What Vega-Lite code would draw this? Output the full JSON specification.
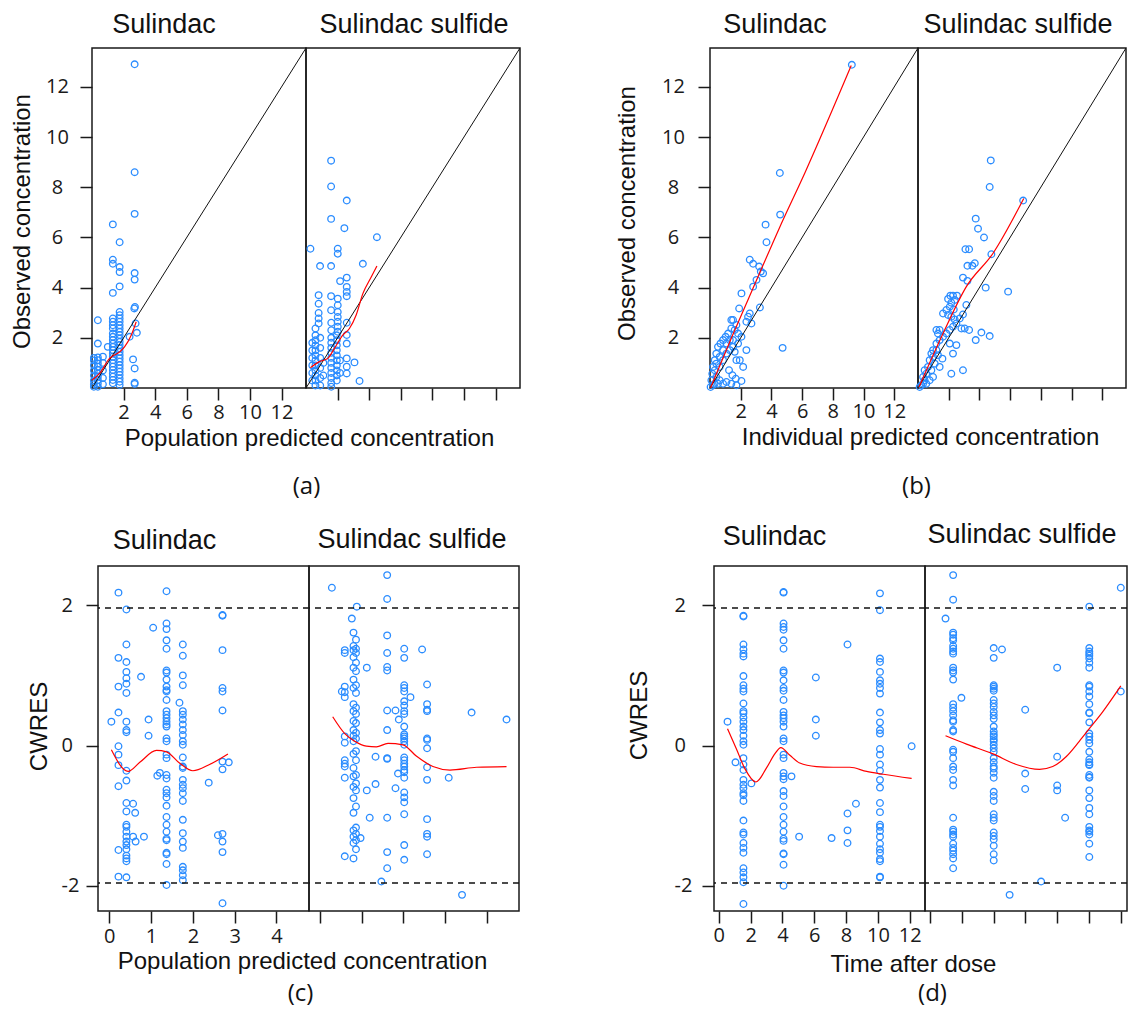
{
"$schema": "https://vega.github.io/schema/vega-lite/v6.json",
"padding": {"left": 0, "top": 10, "right": 0, "bottom": 0},
"background": "white",
"config": {
 "view": {"stroke": "#1a1a1a", "strokeWidth": 1.5},
 "axis": {"domain": false, "grid": false, "ticks": true, "tickColor": "#1a1a1a", "tickWidth": 1.5, "tickSize": 12, "labelFont": "Open Sans", "labelFontSize": 20, "labelColor": "#1a1a1a", "labelFlush": false, "labelOverlap": false, "labelExpr": "'' + datum.value", "titleFont": "Liberation Sans", "titleFontSize": 24, "titleFontWeight": "normal", "titleColor": "#111111", "titleBaseline": "alphabetic"},
 "title": {"font": "Liberation Sans", "fontSize": 27, "fontWeight": "normal", "color": "#111111", "baseline": "alphabetic", "anchor": "middle"}
},
"datasets": {
 "diag": [{"x":0,"y":0},{"x":13.55,"y":13.55}],
 "hl": [{"y":1.96},{"y":-1.96}],
 "a_s": [{"x":2.7,"y":12.9},{"x":2.7,"y":8.6},{"x":2.7,"y":6.94},{"x":2.7,"y":4.58},{"x":2.7,"y":4.32},{"x":2.72,"y":3.23},{"x":2.68,"y":3.17},{"x":2.76,"y":2.57},{"x":2.84,"y":2.2},{"x":2.6,"y":1.14},{"x":2.7,"y":0.78},{"x":2.7,"y":0.21},{"x":2.7,"y":0.16},
{"x":1.32,"y":6.52},{"x":1.32,"y":5.11},{"x":1.32,"y":4.95},{"x":1.32,"y":3.79},
{"x":1.32,"y":2.77},{"x":1.32,"y":2.64},{"x":1.32,"y":2.5},{"x":1.32,"y":2.37},{"x":1.32,"y":2.17},{"x":1.32,"y":2.04},{"x":1.32,"y":1.91},{"x":1.32,"y":1.77},{"x":1.32,"y":1.64},{"x":1.32,"y":1.51},{"x":1.32,"y":1.38},{"x":1.32,"y":1.25},{"x":1.32,"y":1.11},{"x":1.32,"y":0.98},{"x":1.32,"y":0.85},{"x":1.32,"y":0.72},{"x":1.32,"y":0.58},{"x":1.32,"y":0.45},{"x":1.32,"y":0.32},{"x":1.32,"y":0.19},
{"x":1.75,"y":5.81},{"x":1.75,"y":4.82},{"x":1.75,"y":4.62},{"x":1.75,"y":4.05},{"x":1.75,"y":3.03},{"x":1.75,"y":2.9},{"x":1.75,"y":2.77},{"x":1.75,"y":2.64},{"x":1.75,"y":2.5},{"x":1.75,"y":2.37},{"x":1.75,"y":2.24},{"x":1.75,"y":2.11},{"x":1.75,"y":1.97},{"x":1.75,"y":1.84},{"x":1.75,"y":1.71},{"x":1.75,"y":1.58},{"x":1.75,"y":1.44},{"x":1.75,"y":1.31},{"x":1.75,"y":1.18},{"x":1.75,"y":1.05},{"x":1.75,"y":0.91},{"x":1.75,"y":0.78},{"x":1.75,"y":0.65},{"x":1.75,"y":0.52},{"x":1.75,"y":0.38},{"x":1.75,"y":0.25},{"x":1.75,"y":0.12},
{"x":0.37,"y":2.7},{"x":0.37,"y":1.77},{"x":0.37,"y":1.22},{"x":0.37,"y":1.11},{"x":0.37,"y":0.98},{"x":0.37,"y":0.85},{"x":0.37,"y":0.72},{"x":0.37,"y":0.58},{"x":0.37,"y":0.45},{"x":0.37,"y":0.32},{"x":0.37,"y":0.19},{"x":0.37,"y":0.05},
{"x":0.12,"y":1.2},{"x":0.12,"y":1.1},{"x":0.12,"y":0.9},{"x":0.12,"y":0.7},{"x":0.12,"y":0.5},{"x":0.12,"y":0.3},{"x":0.12,"y":0.15},{"x":0.12,"y":0.05},
{"x":0.69,"y":1.25},{"x":0.69,"y":1.0},{"x":0.69,"y":0.7},{"x":0.69,"y":0.4},{"x":0.69,"y":0.15},
{"x":1.0,"y":1.64},{"x":2.38,"y":2.04}],
 "a_s_sm": [{"x":0.01,"y":0.32},{"x":0.48,"y":0.58},{"x":1.11,"y":1.18},{"x":1.75,"y":1.44},{"x":2.06,"y":1.64},{"x":2.49,"y":2.11},{"x":2.8,"y":2.64}],
 "a_ss": [{"x":0.28,"y":5.55},{"x":1.59,"y":9.06},{"x":1.59,"y":8.03},{"x":2.58,"y":7.47},{"x":1.59,"y":6.74},{"x":2.43,"y":6.37},{"x":4.49,"y":6.01},{"x":2.01,"y":5.55},{"x":2.01,"y":5.35},{"x":0.89,"y":4.86},{"x":1.59,"y":4.86},{"x":3.6,"y":4.95},{"x":2.16,"y":4.26},{"x":2.58,"y":4.4},{"x":2.58,"y":4.03},{"x":2.58,"y":3.83},{"x":2.58,"y":3.66},
{"x":0.8,"y":3.7},{"x":0.8,"y":3.36},{"x":0.8,"y":2.99},{"x":0.8,"y":2.77},{"x":0.8,"y":2.57},{"x":1.59,"y":3.66},{"x":1.59,"y":3.1},
{"x":2.01,"y":3.56},{"x":2.01,"y":3.3},{"x":2.01,"y":3.03},{"x":2.01,"y":2.83},{"x":2.01,"y":2.64},{"x":2.01,"y":2.44},{"x":2.01,"y":2.24},
{"x":2.58,"y":2.6},{"x":2.58,"y":2.11},{"x":2.58,"y":1.77},{"x":2.58,"y":1.18},{"x":2.58,"y":0.85},{"x":2.58,"y":0.58},{"x":3.07,"y":1.02},{"x":3.39,"y":0.28},
{"x":0.6,"y":2.37},{"x":0.6,"y":2.1},{"x":0.6,"y":1.9},{"x":0.6,"y":1.7},{"x":0.6,"y":1.5},{"x":0.6,"y":1.3},{"x":0.6,"y":1.1},{"x":0.6,"y":0.9},{"x":0.6,"y":0.7},{"x":0.6,"y":0.5},{"x":0.6,"y":0.3},{"x":0.6,"y":0.1},
{"x":0.4,"y":1.8},{"x":0.4,"y":1.5},{"x":0.4,"y":1.2},{"x":0.4,"y":0.9},{"x":0.4,"y":0.6},{"x":0.4,"y":0.3},
{"x":0.9,"y":2.0},{"x":0.9,"y":1.6},{"x":0.9,"y":1.2},{"x":0.9,"y":0.8},{"x":0.9,"y":0.4},{"x":0.9,"y":0.1},{"x":1.1,"y":1.0},{"x":1.1,"y":0.5},
{"x":1.6,"y":2.6},{"x":1.6,"y":2.3},{"x":1.6,"y":2.0},{"x":1.6,"y":1.8},{"x":1.6,"y":1.6},{"x":1.6,"y":1.4},{"x":1.6,"y":1.2},{"x":1.6,"y":1.0},{"x":1.6,"y":0.8},{"x":1.6,"y":0.6},{"x":1.6,"y":0.4},{"x":1.6,"y":0.2},{"x":1.6,"y":0.05},
{"x":1.95,"y":2.1},{"x":1.95,"y":1.9},{"x":1.95,"y":1.7},{"x":1.95,"y":1.5},{"x":1.95,"y":1.3},{"x":1.95,"y":1.1},{"x":1.95,"y":0.9},{"x":1.95,"y":0.7},{"x":1.95,"y":0.5},{"x":1.95,"y":0.3},{"x":2.15,"y":1.1},{"x":2.15,"y":0.6}],
 "a_ss_sm": [{"x":0.28,"y":0.81},{"x":0.85,"y":1.05},{"x":1.38,"y":1.18},{"x":1.8,"y":1.58},{"x":2.33,"y":2.11},{"x":2.75,"y":2.37},{"x":3.17,"y":2.9},{"x":3.6,"y":3.76},{"x":4.13,"y":4.42},{"x":4.49,"y":4.86}],
 "b_s": [{"x":9.24,"y":12.88},{"x":4.55,"y":8.57},{"x":4.57,"y":6.91},{"x":3.62,"y":6.51},{"x":3.68,"y":5.81},{"x":2.59,"y":5.11},{"x":2.81,"y":4.95},{"x":3.2,"y":4.84},{"x":3.31,"y":4.64},{"x":3.46,"y":4.57},{"x":3.03,"y":4.31},{"x":2.81,"y":4.04},{"x":2.05,"y":3.77},{"x":1.9,"y":3.17},{"x":3.25,"y":3.21},{"x":2.59,"y":2.97},{"x":2.48,"y":2.84},{"x":2.7,"y":2.57},{"x":2.37,"y":2.64},
{"x":1.5,"y":2.71},{"x":1.72,"y":2.51},{"x":1.39,"y":2.37},{"x":1.18,"y":2.17},{"x":1.02,"y":2.04},{"x":0.85,"y":1.91},{"x":0.68,"y":1.77},{"x":0.52,"y":1.64},{"x":0.41,"y":1.37},{"x":0.31,"y":1.11},{"x":0.2,"y":0.84},{"x":0.15,"y":0.57},{"x":0.09,"y":0.31},
{"x":2.05,"y":2.04},{"x":2.37,"y":1.51},{"x":4.73,"y":1.6},{"x":1.61,"y":1.44},{"x":1.72,"y":1.11},{"x":1.94,"y":1.11},{"x":2.16,"y":0.84},{"x":2.05,"y":0.28},{"x":1.24,"y":0.71},{"x":1.46,"y":0.51},{"x":1.68,"y":0.37},
{"x":0.63,"y":0.84},{"x":0.85,"y":1.11},{"x":1.07,"y":1.37},{"x":1.29,"y":1.51},{"x":1.5,"y":1.64},{"x":1.07,"y":1.77},{"x":1.29,"y":1.91},{"x":0.85,"y":1.51},{"x":0.63,"y":1.24},{"x":0.41,"y":0.97},{"x":0.31,"y":0.71},{"x":0.41,"y":0.44},{"x":0.63,"y":0.31},{"x":0.85,"y":0.17},{"x":1.07,"y":0.24},{"x":1.39,"y":0.17},{"x":1.72,"y":0.11},
{"x":1.39,"y":2.71},{"x":1.61,"y":2.31},{"x":1.83,"y":2.17},{"x":1.5,"y":1.91},{"x":1.83,"y":1.77},{"x":0.04,"y":0.04},{"x":0.2,"y":0.11},{"x":0.3,"y":0.17},{"x":0.52,"y":0.17}],
 "b_s_sm": [{"x":0.03,"y":0.0},{"x":1.4,"y":2.0},{"x":3.0,"y":4.25},{"x":4.5,"y":6.35},{"x":6.2,"y":8.6},{"x":9.2,"y":12.85}],
 "b_ss": [{"x":4.74,"y":9.07},{"x":4.67,"y":8.01},{"x":6.85,"y":7.47},{"x":3.76,"y":6.75},{"x":3.91,"y":6.35},{"x":4.3,"y":6.0},{"x":3.09,"y":5.53},{"x":3.33,"y":5.53},{"x":4.78,"y":5.33},{"x":3.22,"y":4.87},{"x":3.54,"y":4.87},{"x":3.7,"y":4.97},{"x":2.93,"y":4.4},{"x":3.22,"y":4.27},{"x":4.41,"y":4.0},{"x":5.87,"y":3.84},
{"x":2.11,"y":3.68},{"x":2.28,"y":3.68},{"x":2.54,"y":3.68},{"x":1.96,"y":3.55},{"x":2.17,"y":3.4},{"x":2.39,"y":3.51},{"x":2.07,"y":3.24},{"x":2.33,"y":3.13},{"x":1.85,"y":3.11},{"x":1.63,"y":2.97},{"x":1.96,"y":2.91},{"x":2.17,"y":2.84},{"x":2.39,"y":2.73},
{"x":3.15,"y":3.31},{"x":2.93,"y":2.93},{"x":2.72,"y":2.77},{"x":2.83,"y":2.37},{"x":3.04,"y":2.37},{"x":3.33,"y":2.31},{"x":2.5,"y":2.57},{"x":2.28,"y":2.44},{"x":2.07,"y":2.31},{"x":1.85,"y":2.17},{"x":1.63,"y":2.04},{"x":1.41,"y":1.91},{"x":1.2,"y":1.77},{"x":0.98,"y":1.51},{"x":0.87,"y":1.37},{"x":0.76,"y":1.11},{"x":0.65,"y":0.84},{"x":0.54,"y":0.57},{"x":0.43,"y":0.31},{"x":0.33,"y":0.17},{"x":0.22,"y":0.11},
{"x":1.41,"y":2.31},{"x":1.2,"y":2.31},{"x":1.3,"y":2.17},{"x":4.13,"y":2.21},{"x":4.67,"y":2.07},{"x":3.76,"y":1.91},{"x":2.07,"y":1.77},{"x":2.5,"y":1.71},{"x":2.28,"y":1.37},{"x":1.59,"y":1.17},{"x":1.41,"y":0.84},{"x":2.17,"y":0.57},{"x":2.93,"y":0.71},
{"x":0.98,"y":1.24},{"x":1.09,"y":0.97},{"x":0.87,"y":0.71},{"x":0.98,"y":0.44},{"x":0.76,"y":0.31},{"x":0.54,"y":0.17},{"x":0.11,"y":0.04},{"x":0.33,"y":0.44},{"x":0.43,"y":0.71},{"x":1.2,"y":1.51},{"x":1.3,"y":1.31}],
 "b_ss_sm": [{"x":0.07,"y":0.04},{"x":1.63,"y":2.17},{"x":3.15,"y":4.04},{"x":4.89,"y":5.37},{"x":6.89,"y":7.55}],
 "c_s": [{"x":0.22,"y":2.18},{"x":0.22,"y":1.25},{"x":0.22,"y":0.84},{"x":0.22,"y":0.47},{"x":0.22,"y":-0.01},{"x":0.22,"y":-0.13},{"x":0.22,"y":-0.28},{"x":0.22,"y":-0.58},{"x":0.22,"y":-1.49},{"x":0.22,"y":-1.87},{"x":0.05,"y":0.34},
{"x":0.41,"y":1.94},{"x":0.41,"y":1.44},{"x":0.41,"y":1.19},{"x":0.41,"y":1.05},{"x":0.41,"y":0.96},{"x":0.41,"y":0.88},{"x":0.41,"y":0.75},{"x":0.41,"y":0.34},{"x":0.41,"y":0.22},{"x":0.41,"y":0.19},{"x":0.41,"y":-0.36},{"x":0.41,"y":-0.5},{"x":0.41,"y":-0.82},{"x":0.41,"y":-0.94},{"x":0.41,"y":-1.13},{"x":0.41,"y":-1.16},{"x":0.41,"y":-1.23},{"x":0.41,"y":-1.3},{"x":0.41,"y":-1.37},{"x":0.41,"y":-1.42},{"x":0.41,"y":-1.48},{"x":0.41,"y":-1.57},{"x":0.41,"y":-1.61},{"x":0.41,"y":-1.65},{"x":0.41,"y":-1.88},
{"x":0.57,"y":-0.83},{"x":0.62,"y":-0.96},{"x":0.63,"y":-1.37},{"x":0.57,"y":-1.3},{"x":0.76,"y":0.98},{"x":0.83,"y":-1.3},{"x":0.94,"y":0.37},{"x":0.94,"y":0.14},{"x":1.05,"y":1.68},
{"x":1.37,"y":2.2},{"x":1.37,"y":1.74},{"x":1.37,"y":1.66},{"x":1.37,"y":1.5},{"x":1.37,"y":1.38},{"x":1.37,"y":1.07},{"x":1.37,"y":1.04},{"x":1.37,"y":0.94},{"x":1.37,"y":0.84},{"x":1.37,"y":0.79},{"x":1.37,"y":0.77},{"x":1.37,"y":0.65},{"x":1.37,"y":0.49},{"x":1.37,"y":0.44},{"x":1.37,"y":0.39},{"x":1.37,"y":0.34},{"x":1.37,"y":0.3},{"x":1.37,"y":0.27},{"x":1.37,"y":0.1},{"x":1.37,"y":0.06},{"x":1.37,"y":-0.13},{"x":1.37,"y":-0.18},{"x":1.37,"y":-0.42},{"x":1.37,"y":-0.47},{"x":1.37,"y":-0.63},{"x":1.37,"y":-0.68},{"x":1.37,"y":-0.74},{"x":1.37,"y":-0.86},{"x":1.37,"y":-1.02},{"x":1.37,"y":-1.13},{"x":1.37,"y":-1.23},{"x":1.37,"y":-1.33},{"x":1.37,"y":-1.35},{"x":1.37,"y":-1.53},{"x":1.37,"y":-1.55},{"x":1.37,"y":-1.69},{"x":1.37,"y":-1.99},
{"x":1.15,"y":-0.43},{"x":1.21,"y":-0.39},{"x":1.68,"y":0.61},
{"x":1.76,"y":1.44},{"x":1.76,"y":1.28},{"x":1.76,"y":1.0},{"x":1.76,"y":0.86},{"x":1.76,"y":0.49},{"x":1.76,"y":0.44},{"x":1.76,"y":0.37},{"x":1.76,"y":0.3},{"x":1.76,"y":0.22},{"x":1.76,"y":0.15},{"x":1.76,"y":0.06},{"x":1.76,"y":0.01},{"x":1.76,"y":-0.17},{"x":1.76,"y":-0.3},{"x":1.76,"y":-0.32},{"x":1.76,"y":-0.49},{"x":1.76,"y":-0.56},{"x":1.76,"y":-0.61},{"x":1.76,"y":-0.68},{"x":1.76,"y":-0.79},{"x":1.76,"y":-1.06},{"x":1.76,"y":-1.25},{"x":1.76,"y":-1.37},{"x":1.76,"y":-1.46},{"x":1.76,"y":-1.73},{"x":1.76,"y":-1.78},{"x":1.76,"y":-1.85},{"x":1.76,"y":-1.92},
{"x":2.38,"y":-0.53},
{"x":2.71,"y":1.86},{"x":2.71,"y":1.85},{"x":2.71,"y":1.36},{"x":2.71,"y":0.82},{"x":2.71,"y":0.77},{"x":2.71,"y":0.5},{"x":2.71,"y":-0.23},{"x":2.71,"y":-0.34},{"x":2.71,"y":-1.26},{"x":2.71,"y":-1.37},{"x":2.71,"y":-1.52},{"x":2.71,"y":-2.25},{"x":2.6,"y":-1.28},{"x":2.86,"y":-0.24}],
 "c_s_sm": [{"x":0.05,"y":-0.06},{"x":0.45,"y":-0.37},{"x":0.73,"y":-0.24},{"x":1.13,"y":-0.07},{"x":1.37,"y":-0.09},{"x":1.68,"y":-0.25},{"x":2.0,"y":-0.36},{"x":2.4,"y":-0.27},{"x":2.84,"y":-0.12}],
 "c_ss": [{"x":0.28,"y":2.25},{"x":0.88,"y":1.98},{"x":0.76,"y":1.81},
{"x":0.8,"y":1.61},{"x":0.86,"y":1.51},{"x":0.8,"y":1.42},{"x":0.86,"y":1.38},{"x":0.8,"y":1.36},{"x":0.86,"y":1.32},{"x":0.8,"y":1.26},{"x":0.86,"y":1.18},{"x":0.8,"y":1.11},{"x":0.86,"y":1.06},{"x":0.8,"y":0.94},{"x":0.86,"y":0.86},{"x":0.8,"y":0.82},{"x":0.86,"y":0.75},{"x":0.8,"y":0.59},{"x":0.86,"y":0.54},{"x":0.8,"y":0.49},{"x":0.86,"y":0.45},{"x":0.8,"y":0.35},{"x":0.86,"y":0.32},{"x":0.8,"y":0.22},{"x":0.86,"y":0.18},{"x":0.8,"y":0.14},{"x":0.86,"y":0.1},{"x":0.8,"y":0.06},{"x":0.86,"y":-0.08},{"x":0.8,"y":-0.12},{"x":0.86,"y":-0.21},{"x":0.8,"y":-0.32},{"x":0.86,"y":-0.42},{"x":0.8,"y":-0.44},{"x":0.86,"y":-0.54},{"x":0.8,"y":-0.59},{"x":0.86,"y":-0.64},{"x":0.8,"y":-0.75},{"x":0.86,"y":-0.87},{"x":0.8,"y":-0.96},{"x":0.86,"y":-1.17},{"x":0.8,"y":-1.21},{"x":0.86,"y":-1.26},{"x":0.8,"y":-1.3},{"x":0.86,"y":-1.35},{"x":0.8,"y":-1.39},{"x":0.86,"y":-1.48},{"x":0.8,"y":-1.61},
{"x":0.59,"y":1.36},{"x":0.59,"y":1.32},{"x":0.59,"y":0.84},{"x":0.59,"y":0.76},{"x":0.59,"y":0.69},{"x":0.59,"y":0.13},{"x":0.59,"y":0.04},{"x":0.59,"y":-0.21},{"x":0.59,"y":-0.26},{"x":0.59,"y":-0.3},{"x":0.59,"y":-0.46},{"x":0.59,"y":-1.58},
{"x":0.52,"y":0.77},{"x":0.97,"y":-1.32},{"x":1.12,"y":1.11},{"x":1.12,"y":-0.64},{"x":1.19,"y":-1.03},{"x":1.33,"y":-0.55},{"x":1.33,"y":-0.16},
{"x":1.61,"y":2.43},{"x":1.61,"y":2.09},{"x":1.61,"y":1.57},{"x":1.61,"y":1.32},{"x":1.61,"y":1.12},{"x":1.61,"y":1.07},{"x":1.61,"y":0.5},{"x":1.61,"y":0.22},{"x":1.61,"y":-0.18},{"x":1.61,"y":-0.19},{"x":1.61,"y":-1.03},{"x":1.61,"y":-1.52},{"x":1.61,"y":-1.75},
{"x":1.47,"y":-1.94},{"x":1.81,"y":0.5},{"x":1.81,"y":-0.61},{"x":1.89,"y":0.37},{"x":1.87,"y":-0.4},
{"x":2.02,"y":1.38},{"x":2.02,"y":1.25},{"x":2.02,"y":0.86},{"x":2.02,"y":0.82},{"x":2.02,"y":0.77},{"x":2.02,"y":0.63},{"x":2.02,"y":0.57},{"x":2.02,"y":0.49},{"x":2.02,"y":0.45},{"x":2.02,"y":0.27},{"x":2.02,"y":0.16},{"x":2.02,"y":0.13},{"x":2.02,"y":0.1},{"x":2.02,"y":0.06},{"x":2.02,"y":0.01},{"x":2.02,"y":-0.17},{"x":2.02,"y":-0.21},{"x":2.02,"y":-0.26},{"x":2.02,"y":-0.3},{"x":2.02,"y":-0.35},{"x":2.02,"y":-0.38},{"x":2.02,"y":-0.46},{"x":2.02,"y":-0.67},{"x":2.02,"y":-0.74},{"x":2.02,"y":-0.81},{"x":2.02,"y":-0.98},{"x":2.02,"y":-1.42},{"x":2.02,"y":-1.63},
{"x":2.17,"y":0.69},{"x":2.45,"y":1.37},
{"x":2.57,"y":0.87},{"x":2.57,"y":0.59},{"x":2.57,"y":0.51},{"x":2.57,"y":0.49},{"x":2.57,"y":0.1},{"x":2.57,"y":0.08},{"x":2.57,"y":-0.04},{"x":2.57,"y":-0.31},{"x":2.57,"y":-0.49},{"x":2.57,"y":-1.05},{"x":2.57,"y":-1.26},{"x":2.57,"y":-1.3},{"x":2.57,"y":-1.55},
{"x":3.09,"y":-0.46},{"x":3.64,"y":0.47},{"x":4.48,"y":0.37},{"x":3.41,"y":-2.13}],
 "c_ss_sm": [{"x":0.3,"y":0.41},{"x":0.59,"y":0.17},{"x":0.83,"y":0.06},{"x":1.11,"y":-0.01},{"x":1.35,"y":-0.02},{"x":1.63,"y":0.03},{"x":1.99,"y":0.01},{"x":2.31,"y":-0.15},{"x":2.71,"y":-0.3},{"x":3.12,"y":-0.35},{"x":3.76,"y":-0.31},{"x":4.48,"y":-0.3}],
 "d_s": [{"x":0.55,"y":0.34},{"x":1.05,"y":-0.24},
{"x":1.55,"y":1.85},{"x":1.55,"y":1.84},{"x":1.55,"y":1.44},{"x":1.55,"y":1.37},{"x":1.55,"y":1.31},{"x":1.55,"y":1.27},{"x":1.55,"y":0.99},{"x":1.55,"y":0.86},{"x":1.55,"y":0.81},{"x":1.55,"y":0.77},{"x":1.55,"y":0.6},{"x":1.55,"y":0.49},{"x":1.55,"y":0.46},{"x":1.55,"y":0.4},{"x":1.55,"y":0.34},{"x":1.55,"y":0.27},{"x":1.55,"y":0.22},{"x":1.55,"y":0.14},{"x":1.55,"y":0.06},{"x":1.55,"y":0.01},{"x":1.55,"y":-0.18},{"x":1.55,"y":-0.27},{"x":1.55,"y":-0.35},{"x":1.55,"y":-0.49},{"x":1.55,"y":-0.56},{"x":1.55,"y":-0.61},{"x":1.55,"y":-0.68},{"x":1.55,"y":-0.71},{"x":1.55,"y":-0.79},{"x":1.55,"y":-1.07},{"x":1.55,"y":-1.24},{"x":1.55,"y":-1.27},{"x":1.55,"y":-1.39},{"x":1.55,"y":-1.46},{"x":1.55,"y":-1.53},{"x":1.55,"y":-1.75},{"x":1.55,"y":-1.81},{"x":1.55,"y":-1.88},{"x":1.55,"y":-1.95},{"x":1.55,"y":-2.26},
{"x":2.05,"y":-0.54},
{"x":4.07,"y":2.19},{"x":4.07,"y":2.18},{"x":4.07,"y":1.74},{"x":4.07,"y":1.69},{"x":4.07,"y":1.65},{"x":4.07,"y":1.5},{"x":4.07,"y":1.38},{"x":4.07,"y":1.07},{"x":4.07,"y":1.04},{"x":4.07,"y":0.93},{"x":4.07,"y":0.82},{"x":4.07,"y":0.78},{"x":4.07,"y":0.65},{"x":4.07,"y":0.48},{"x":4.07,"y":0.43},{"x":4.07,"y":0.39},{"x":4.07,"y":0.34},{"x":4.07,"y":0.27},{"x":4.07,"y":0.1},{"x":4.07,"y":0.06},{"x":4.07,"y":-0.13},{"x":4.07,"y":-0.18},{"x":4.07,"y":-0.39},{"x":4.07,"y":-0.44},{"x":4.07,"y":-0.48},{"x":4.07,"y":-0.65},{"x":4.07,"y":-0.72},{"x":4.07,"y":-0.87},{"x":4.07,"y":-1.02},{"x":4.07,"y":-1.13},{"x":4.07,"y":-1.23},{"x":4.07,"y":-1.33},{"x":4.07,"y":-1.36},{"x":4.07,"y":-1.54},{"x":4.07,"y":-1.55},{"x":4.07,"y":-1.7},{"x":4.07,"y":-2.0},
{"x":4.57,"y":-0.44},{"x":5.05,"y":-1.3},{"x":6.1,"y":0.97},{"x":6.1,"y":0.37},{"x":6.1,"y":0.14},{"x":7.09,"y":-1.32},{"x":8.09,"y":1.44},{"x":8.09,"y":-0.97},{"x":8.09,"y":-1.21},{"x":8.09,"y":-1.39},{"x":8.62,"y":-0.83},
{"x":10.13,"y":2.17},{"x":10.13,"y":1.93},{"x":10.13,"y":1.24},{"x":10.13,"y":1.19},{"x":10.13,"y":1.05},{"x":10.13,"y":0.93},{"x":10.13,"y":0.88},{"x":10.13,"y":0.82},{"x":10.13,"y":0.74},{"x":10.13,"y":0.47},{"x":10.13,"y":0.33},{"x":10.13,"y":0.22},{"x":10.13,"y":0.17},{"x":10.13,"y":-0.05},{"x":10.13,"y":-0.13},{"x":10.13,"y":-0.27},{"x":10.13,"y":-0.36},{"x":10.13,"y":-0.49},{"x":10.13,"y":-0.6},{"x":10.13,"y":-0.82},{"x":10.13,"y":-0.95},{"x":10.13,"y":-1.13},{"x":10.13,"y":-1.16},{"x":10.13,"y":-1.22},{"x":10.13,"y":-1.3},{"x":10.13,"y":-1.4},{"x":10.13,"y":-1.48},{"x":10.13,"y":-1.53},{"x":10.13,"y":-1.62},{"x":10.13,"y":-1.65},{"x":10.13,"y":-1.87},{"x":10.13,"y":-1.88},
{"x":12.12,"y":-0.01}],
 "d_s_sm": [{"x":0.55,"y":0.24},{"x":1.11,"y":-0.05},{"x":1.64,"y":-0.33},{"x":2.33,"y":-0.52},{"x":3.0,"y":-0.32},{"x":3.52,"y":-0.12},{"x":3.9,"y":-0.03},{"x":4.47,"y":-0.14},{"x":5.09,"y":-0.25},{"x":6.14,"y":-0.3},{"x":7.19,"y":-0.31},{"x":8.24,"y":-0.31},{"x":9.29,"y":-0.37},{"x":10.34,"y":-0.41},{"x":12.12,"y":-0.47}],
 "d_ss": [{"x":1.46,"y":2.43},{"x":1.46,"y":2.08},{"x":1.46,"y":1.61},{"x":1.46,"y":1.58},{"x":1.46,"y":1.53},{"x":1.46,"y":1.5},{"x":1.46,"y":1.42},{"x":1.46,"y":1.38},{"x":1.46,"y":1.34},{"x":1.46,"y":1.31},{"x":1.46,"y":1.11},{"x":1.46,"y":1.07},{"x":1.46,"y":1.04},{"x":1.46,"y":0.94},{"x":1.46,"y":0.59},{"x":1.46,"y":0.54},{"x":1.46,"y":0.49},{"x":1.46,"y":0.43},{"x":1.46,"y":0.36},{"x":1.46,"y":0.34},{"x":1.46,"y":0.22},{"x":1.46,"y":0.2},{"x":1.46,"y":-0.06},{"x":1.46,"y":-0.09},{"x":1.46,"y":-0.18},{"x":1.46,"y":-0.3},{"x":1.46,"y":-0.35},{"x":1.46,"y":-0.49},{"x":1.46,"y":-0.57},{"x":1.46,"y":-1.03},{"x":1.46,"y":-1.2},{"x":1.46,"y":-1.23},{"x":1.46,"y":-1.27},{"x":1.46,"y":-1.3},{"x":1.46,"y":-1.4},{"x":1.46,"y":-1.46},{"x":1.46,"y":-1.5},{"x":1.46,"y":-1.55},{"x":1.46,"y":-1.61},{"x":1.46,"y":-1.75},
{"x":0.98,"y":1.81},{"x":1.98,"y":0.68},
{"x":4.01,"y":1.39},{"x":4.01,"y":1.25},{"x":4.01,"y":0.86},{"x":4.01,"y":0.84},{"x":4.01,"y":0.81},{"x":4.01,"y":0.78},{"x":4.01,"y":0.65},{"x":4.01,"y":0.6},{"x":4.01,"y":0.55},{"x":4.01,"y":0.48},{"x":4.01,"y":0.43},{"x":4.01,"y":0.38},{"x":4.01,"y":0.27},{"x":4.01,"y":0.2},{"x":4.01,"y":0.16},{"x":4.01,"y":0.13},{"x":4.01,"y":0.09},{"x":4.01,"y":0.06},{"x":4.01,"y":0.01},{"x":4.01,"y":-0.04},{"x":4.01,"y":-0.09},{"x":4.01,"y":-0.18},{"x":4.01,"y":-0.24},{"x":4.01,"y":-0.3},{"x":4.01,"y":-0.33},{"x":4.01,"y":-0.39},{"x":4.01,"y":-0.46},{"x":4.01,"y":-0.66},{"x":4.01,"y":-0.72},{"x":4.01,"y":-0.79},{"x":4.01,"y":-0.98},{"x":4.01,"y":-1.03},{"x":4.01,"y":-1.07},{"x":4.01,"y":-1.24},{"x":4.01,"y":-1.29},{"x":4.01,"y":-1.34},{"x":4.01,"y":-1.43},{"x":4.01,"y":-1.55},{"x":4.01,"y":-1.64},
{"x":4.53,"y":1.37},{"x":5.99,"y":0.51},{"x":5.99,"y":-0.4},{"x":5.99,"y":-0.62},{"x":5.01,"y":-2.13},{"x":6.99,"y":-1.94},{"x":8.0,"y":1.11},{"x":8.0,"y":-0.16},{"x":8.0,"y":-0.57},{"x":8.0,"y":-0.64},{"x":8.5,"y":-1.03},
{"x":10.02,"y":1.98},{"x":10.02,"y":1.39},{"x":10.02,"y":1.34},{"x":10.02,"y":1.31},{"x":10.02,"y":1.28},{"x":10.02,"y":1.24},{"x":10.02,"y":1.18},{"x":10.02,"y":1.11},{"x":10.02,"y":0.86},{"x":10.02,"y":0.84},{"x":10.02,"y":0.77},{"x":10.02,"y":0.7},{"x":10.02,"y":0.59},{"x":10.02,"y":0.47},{"x":10.02,"y":0.46},{"x":10.02,"y":0.33},{"x":10.02,"y":0.17},{"x":10.02,"y":0.13},{"x":10.02,"y":0.08},{"x":10.02,"y":0.03},{"x":10.02,"y":-0.09},{"x":10.02,"y":-0.2},{"x":10.02,"y":-0.24},{"x":10.02,"y":-0.27},{"x":10.02,"y":-0.28},{"x":10.02,"y":-0.42},{"x":10.02,"y":-0.45},{"x":10.02,"y":-0.46},{"x":10.02,"y":-0.64},{"x":10.02,"y":-0.75},{"x":10.02,"y":-0.89},{"x":10.02,"y":-0.98},{"x":10.02,"y":-1.16},{"x":10.02,"y":-1.21},{"x":10.02,"y":-1.23},{"x":10.02,"y":-1.27},{"x":10.02,"y":-1.4},{"x":10.02,"y":-1.59},
{"x":12.0,"y":2.25},{"x":12.0,"y":0.77}],
 "d_ss_sm": [{"x":0.98,"y":0.14},{"x":2.3,"y":0.02},{"x":3.97,"y":-0.12},{"x":5.43,"y":-0.27},{"x":6.89,"y":-0.34},{"x":7.72,"y":-0.3},{"x":8.56,"y":-0.16},{"x":9.39,"y":0.06},{"x":10.02,"y":0.24},{"x":10.86,"y":0.48},{"x":12.0,"y":0.85}]
},
"spacing": 12,
"vconcat": [
 {"bounds": "flush", "align": "none", "columns": 6, "spacing": 0, "concat": [
 {"width": 92, "height": 460, "view": {"stroke": null}, "data": {"values": [{"k": 0}]}, "mark": {"type": "point", "opacity": 0}},
 {"width": 214, "height": 340, "title": {"text": "Sulindac", "dx": -35, "offset": 9},
  "layer": [
   {"data": {"name": "a_s"}, "mark": {"type": "point", "shape": "circle", "filled": false, "color": "#2a8cff", "size": 44, "strokeWidth": 1.3, "opacity": 1},
    "encoding": {"x": {"field": "x", "type": "quantitative", "scale": {"domain": [0, 13.55], "nice": false, "zero": false}, "axis": {"values": [2,4,6,8,10,12], "tickCount": 20, "labelPadding": 2, "title": "Population predicted concentration", "titleX": 217, "titleY": 57}},
                 "y": {"field": "y", "type": "quantitative", "scale": {"domain": [0, 13.55], "nice": false, "zero": false}, "axis": {"values": [2,4,6,8,10,12], "tickCount": 20, "labelAlign": "center", "labelPadding": 23, "title": "Observed concentration", "titleX": -63, "titleY": 173}}}},
   {"data": {"name": "diag"}, "mark": {"type": "line", "color": "#111111", "strokeWidth": 1, "clip": true}, "encoding": {"x": {"field": "x", "type": "quantitative"}, "y": {"field": "y", "type": "quantitative"}}},
   {"data": {"name": "a_s_sm"}, "mark": {"type": "line", "color": "#ff0000", "strokeWidth": 1.2, "interpolate": "monotone", "clip": true}, "encoding": {"x": {"field": "x", "type": "quantitative"}, "y": {"field": "y", "type": "quantitative"}}}
  ]},
 {"width": 214, "height": 340, "title": {"text": "Sulindac sulfide", "dx": 1, "offset": 9},
  "layer": [
   {"data": {"name": "a_ss"}, "mark": {"type": "point", "shape": "circle", "filled": false, "color": "#2a8cff", "size": 44, "strokeWidth": 1.3, "opacity": 1},
    "encoding": {"x": {"field": "x", "type": "quantitative", "scale": {"domain": [0, 13.55], "nice": false, "zero": false}, "axis": {"values": [2,4,6,8,10,12], "tickCount": 20, "labels": false, "title": "(a)", "titleFont": "Open Sans", "titleX": 0, "titleY": 105}},
                 "y": {"field": "y", "type": "quantitative", "scale": {"domain": [0, 13.55], "nice": false, "zero": false}, "axis": null}}},
   {"data": {"name": "diag"}, "mark": {"type": "line", "color": "#111111", "strokeWidth": 1, "clip": true}, "encoding": {"x": {"field": "x", "type": "quantitative"}, "y": {"field": "y", "type": "quantitative"}}},
   {"data": {"name": "a_ss_sm"}, "mark": {"type": "line", "color": "#ff0000", "strokeWidth": 1.2, "interpolate": "monotone", "clip": true}, "encoding": {"x": {"field": "x", "type": "quantitative"}, "y": {"field": "y", "type": "quantitative"}}}
  ]},
 {"width": 190, "height": 340, "view": {"stroke": null}, "data": {"values": [{"k": 0}]}, "mark": {"type": "point", "opacity": 0}},
 {"width": 208, "height": 340, "title": {"text": "Sulindac", "dx": -39, "offset": 9},
  "layer": [
   {"data": {"name": "b_s"}, "mark": {"type": "point", "shape": "circle", "filled": false, "color": "#2a8cff", "size": 44, "strokeWidth": 1.3, "opacity": 1},
    "encoding": {"x": {"field": "x", "type": "quantitative", "scale": {"domain": [0, 13.55], "nice": false, "zero": false}, "axis": {"values": [2,4,6,8,10,12], "tickCount": 20, "labelPadding": 1, "title": "Individual predicted concentration", "titleX": 210, "titleY": 56}},
                 "y": {"field": "y", "type": "quantitative", "scale": {"domain": [0, 13.55], "nice": false, "zero": false}, "axis": {"values": [2,4,6,8,10,12], "tickCount": 20, "labelAlign": "center", "labelPadding": 25, "title": "Observed concentration", "titleX": -76, "titleY": 165}}}},
   {"data": {"name": "diag"}, "mark": {"type": "line", "color": "#111111", "strokeWidth": 1, "clip": true}, "encoding": {"x": {"field": "x", "type": "quantitative"}, "y": {"field": "y", "type": "quantitative"}}},
   {"data": {"name": "b_s_sm"}, "mark": {"type": "line", "color": "#ff0000", "strokeWidth": 1.2, "interpolate": "monotone", "clip": true}, "encoding": {"x": {"field": "x", "type": "quantitative"}, "y": {"field": "y", "type": "quantitative"}}},
   {"mark": {"type": "rule", "color": "#eaa868", "strokeWidth": 3}, "encoding": {"y": {"datum": 13.55, "type": "quantitative"}}}
  ]},
 {"width": 208, "height": 340, "title": {"text": "Sulindac sulfide", "dx": -4, "offset": 9},
  "layer": [
   {"data": {"name": "b_ss"}, "mark": {"type": "point", "shape": "circle", "filled": false, "color": "#2a8cff", "size": 44, "strokeWidth": 1.3, "opacity": 1},
    "encoding": {"x": {"field": "x", "type": "quantitative", "scale": {"domain": [0, 13.55], "nice": false, "zero": false}, "axis": {"values": [2,4,6,8,10,12], "tickCount": 20, "labels": false, "title": "(b)", "titleFont": "Open Sans", "titleX": -2, "titleY": 105}},
                 "y": {"field": "y", "type": "quantitative", "scale": {"domain": [0, 13.55], "nice": false, "zero": false}, "axis": null}}},
   {"data": {"name": "diag"}, "mark": {"type": "line", "color": "#111111", "strokeWidth": 1, "clip": true}, "encoding": {"x": {"field": "x", "type": "quantitative"}, "y": {"field": "y", "type": "quantitative"}}},
   {"data": {"name": "b_ss_sm"}, "mark": {"type": "line", "color": "#ff0000", "strokeWidth": 1.2, "interpolate": "monotone", "clip": true}, "encoding": {"x": {"field": "x", "type": "quantitative"}, "y": {"field": "y", "type": "quantitative"}}},
   {"mark": {"type": "rule", "color": "#eaa868", "strokeWidth": 3}, "encoding": {"y": {"datum": 13.55, "type": "quantitative"}}}
  ]}
 ]},
 {"bounds": "flush", "align": "none", "columns": 6, "spacing": 0, "concat": [
 {"width": 98, "height": 345, "view": {"stroke": null}, "data": {"values": [{"k": 0}]}, "mark": {"type": "point", "opacity": 0}},
 {"width": 211, "height": 345, "title": {"text": "Sulindac", "dx": -39, "offset": 11},
  "layer": [
   {"data": {"name": "c_s"}, "mark": {"type": "point", "shape": "circle", "filled": false, "color": "#2a8cff", "size": 44, "strokeWidth": 1.3, "opacity": 1},
    "encoding": {"x": {"field": "x", "type": "quantitative", "scale": {"domain": [-0.27, 4.78], "nice": false, "zero": false}, "axis": {"values": [0,1,2,3,4], "tickCount": 20, "labelPadding": 3, "title": "Population predicted concentration", "titleX": 204, "titleY": 57}},
                 "y": {"field": "y", "type": "quantitative", "scale": {"domain": [-2.36, 2.56], "nice": false, "zero": false}, "axis": {"values": [-2,0,2], "tickCount": 20, "labelAlign": "left", "labelPadding": 25, "title": "CWRES", "titleX": -52, "titleY": 160}}}},
   {"mark": {"type": "rule", "color": "#111111", "strokeWidth": 1.5}, "encoding": {"y": {"datum": 0, "type": "quantitative"}}},
   {"data": {"name": "hl"}, "mark": {"type": "rule", "color": "#111111", "strokeWidth": 1.5, "strokeDash": [6, 5]}, "encoding": {"y": {"field": "y", "type": "quantitative"}}},
   {"data": {"name": "c_s_sm"}, "mark": {"type": "line", "color": "#ff0000", "strokeWidth": 1.2, "interpolate": "monotone", "clip": true}, "encoding": {"x": {"field": "x", "type": "quantitative"}, "y": {"field": "y", "type": "quantitative"}}}
  ]},
 {"width": 210, "height": 345, "title": {"text": "Sulindac sulfide", "dx": -2, "offset": 12},
  "layer": [
   {"data": {"name": "c_ss"}, "mark": {"type": "point", "shape": "circle", "filled": false, "color": "#2a8cff", "size": 44, "strokeWidth": 1.3, "opacity": 1},
    "encoding": {"x": {"field": "x", "type": "quantitative", "scale": {"domain": [-0.27, 4.78], "nice": false, "zero": false}, "axis": {"values": [0,1,2,3,4], "tickCount": 20, "labels": false, "title": "(c)", "titleFont": "Open Sans", "titleX": -9, "titleY": 89}},
                 "y": {"field": "y", "type": "quantitative", "scale": {"domain": [-2.36, 2.56], "nice": false, "zero": false}, "axis": null}}},
   {"mark": {"type": "rule", "color": "#111111", "strokeWidth": 1.5}, "encoding": {"y": {"datum": 0, "type": "quantitative"}}},
   {"data": {"name": "hl"}, "mark": {"type": "rule", "color": "#111111", "strokeWidth": 1.5, "strokeDash": [6, 5]}, "encoding": {"y": {"field": "y", "type": "quantitative"}}},
   {"data": {"name": "c_ss_sm"}, "mark": {"type": "line", "color": "#ff0000", "strokeWidth": 1.2, "interpolate": "monotone", "clip": true}, "encoding": {"x": {"field": "x", "type": "quantitative"}, "y": {"field": "y", "type": "quantitative"}}}
  ]},
 {"width": 195, "height": 345, "view": {"stroke": null}, "data": {"values": [{"k": 0}]}, "mark": {"type": "point", "opacity": 0}},
 {"width": 211, "height": 345, "title": {"text": "Sulindac", "dx": -45, "offset": 15},
  "layer": [
   {"data": {"name": "d_s"}, "mark": {"type": "point", "shape": "circle", "filled": false, "color": "#2a8cff", "size": 44, "strokeWidth": 1.3, "opacity": 1},
    "encoding": {"x": {"field": "x", "type": "quantitative", "scale": {"domain": [-0.3, 12.96], "nice": false, "zero": false}, "axis": {"values": [0,2,4,6,8,10,12], "tickCount": 20, "labelPadding": 2, "title": "Time after dose", "titleX": 199, "titleY": 60}},
                 "y": {"field": "y", "type": "quantitative", "scale": {"domain": [-2.36, 2.56], "nice": false, "zero": false}, "axis": {"values": [-2,0,2], "tickCount": 20, "labelAlign": "left", "labelPadding": 28, "title": "CWRES", "titleX": -68, "titleY": 149}}}},
   {"mark": {"type": "rule", "color": "#111111", "strokeWidth": 1.5}, "encoding": {"y": {"datum": 0, "type": "quantitative"}}},
   {"data": {"name": "hl"}, "mark": {"type": "rule", "color": "#111111", "strokeWidth": 1.5, "strokeDash": [6, 5]}, "encoding": {"y": {"field": "y", "type": "quantitative"}}},
   {"data": {"name": "d_s_sm"}, "mark": {"type": "line", "color": "#ff0000", "strokeWidth": 1.2, "interpolate": "monotone", "clip": true}, "encoding": {"x": {"field": "x", "type": "quantitative"}, "y": {"field": "y", "type": "quantitative"}}}
  ]},
 {"width": 202, "height": 345, "title": {"text": "Sulindac sulfide", "dx": -4, "offset": 17},
  "layer": [
   {"data": {"name": "d_ss"}, "mark": {"type": "point", "shape": "circle", "filled": false, "color": "#2a8cff", "size": 44, "strokeWidth": 1.3, "opacity": 1},
    "encoding": {"x": {"field": "x", "type": "quantitative", "scale": {"domain": [-0.31, 12.39], "nice": false, "zero": false}, "axis": {"values": [0,2,4,6,8,10,12], "tickCount": 20, "labels": false, "title": "(d)", "titleFont": "Open Sans", "titleX": 7, "titleY": 89}},
                 "y": {"field": "y", "type": "quantitative", "scale": {"domain": [-2.36, 2.56], "nice": false, "zero": false}, "axis": null}}},
   {"mark": {"type": "rule", "color": "#111111", "strokeWidth": 1.5}, "encoding": {"y": {"datum": 0, "type": "quantitative"}}},
   {"data": {"name": "hl"}, "mark": {"type": "rule", "color": "#111111", "strokeWidth": 1.5, "strokeDash": [6, 5]}, "encoding": {"y": {"field": "y", "type": "quantitative"}}},
   {"data": {"name": "d_ss_sm"}, "mark": {"type": "line", "color": "#ff0000", "strokeWidth": 1.2, "interpolate": "monotone", "clip": true}, "encoding": {"x": {"field": "x", "type": "quantitative"}, "y": {"field": "y", "type": "quantitative"}}}
  ]}
 ]}
]
}
